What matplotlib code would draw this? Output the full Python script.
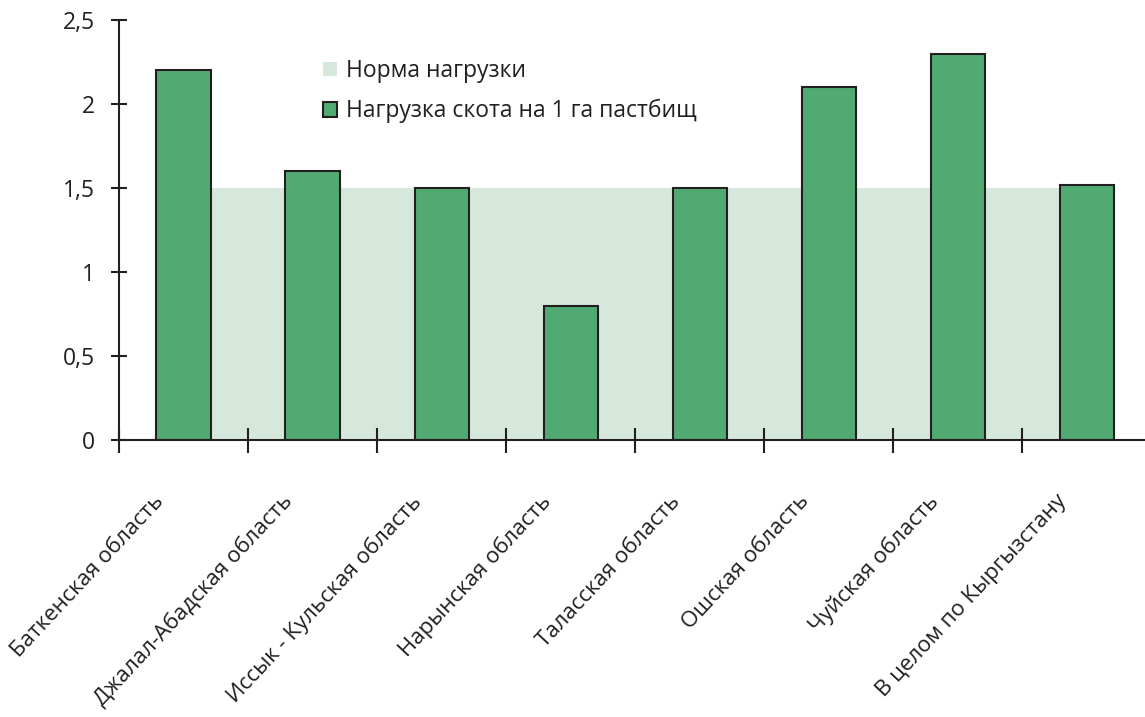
import matplotlib
matplotlib.use("Agg")
import matplotlib.pyplot as plt
from matplotlib.ticker import FuncFormatter, FixedLocator
from matplotlib.patches import Patch
from matplotlib.transforms import ScaledTranslation

categories = ["Баткенская область", "Джалал-Абадская область", "Иссык - Кульская область",
              "Нарынская область", "Таласская область", "Ошская область",
              "Чуйская область", "В целом по Кыргызстану"]
load_values = [2.2, 1.6, 1.5, 0.8, 1.5, 2.1, 2.3, 1.52]
norm_value = 1.5
yticks = [0, 0.5, 1, 1.5, 2, 2.5]
legend_labels = ["Норма нагрузки", "Нагрузка скота на 1 га пастбищ"]

plt.rcParams['font.family'] = ['Open Sans', 'DejaVu Sans']
dark = "#231f20"
bar_color = "#50aa72"
band_color = "#d6e8dc"

fig = plt.figure(figsize=(11.45, 7.17), dpi=100)
ax = fig.add_axes([119/1145, 1-440/717, 1-119/1145, (440-20)/717])

n = len(categories)
x = list(range(n))
w = 0.42
ax.fill_between([x[0]-w/2, x[-1]+w/2], 0, norm_value, color=band_color, lw=0, zorder=1)
ax.bar(x, load_values, width=w, color=bar_color, edgecolor=dark, linewidth=1.5, zorder=2)

ax.set_xlim(-0.5, 7.45)
ax.set_ylim(0, 2.5)
for s in ['top', 'right']:
    ax.spines[s].set_visible(False)
for s in ['left', 'bottom']:
    ax.spines[s].set_color(dark)
    ax.spines[s].set_linewidth(1.5)
    ax.spines[s].set_zorder(3)

ax.set_yticks(yticks)
ax.yaxis.set_major_formatter(FuncFormatter(lambda v, p: f"{v:g}".replace('.', ',')))
ax.tick_params(axis='y', direction='inout', length=12, width=1.5, color=dark,
               labelsize=16.5, labelcolor=dark, pad=11)

ax.set_xticks(x)
ax.set_xticklabels(categories, rotation=47, ha='right', va='top', rotation_mode='anchor',
                   fontsize=16, color=dark)
ax.tick_params(axis='x', which='major', length=0, pad=0)
off = ScaledTranslation(-0.31, -0.51, fig.dpi_scale_trans)
for lbl in ax.get_xticklabels():
    lbl.set_transform(lbl.get_transform() + off)
ax.xaxis.set_minor_locator(FixedLocator([i - 0.5 for i in range(n)]))
ax.tick_params(axis='x', which='minor', direction='inout', length=18, width=1.5, color=dark)

handles = [Patch(facecolor=band_color, edgecolor='none'),
           Patch(facecolor=bar_color, edgecolor=dark, linewidth=1.5)]
ax.legend(handles, legend_labels, loc='upper left', bbox_to_anchor=(0.19, 0.929),
          frameon=False, fontsize=16.5, handlelength=0.6, handleheight=0.6,
          handletextpad=0.4, labelspacing=0.7, labelcolor=dark, borderaxespad=0)

fig.savefig("out.png", dpi=100)
